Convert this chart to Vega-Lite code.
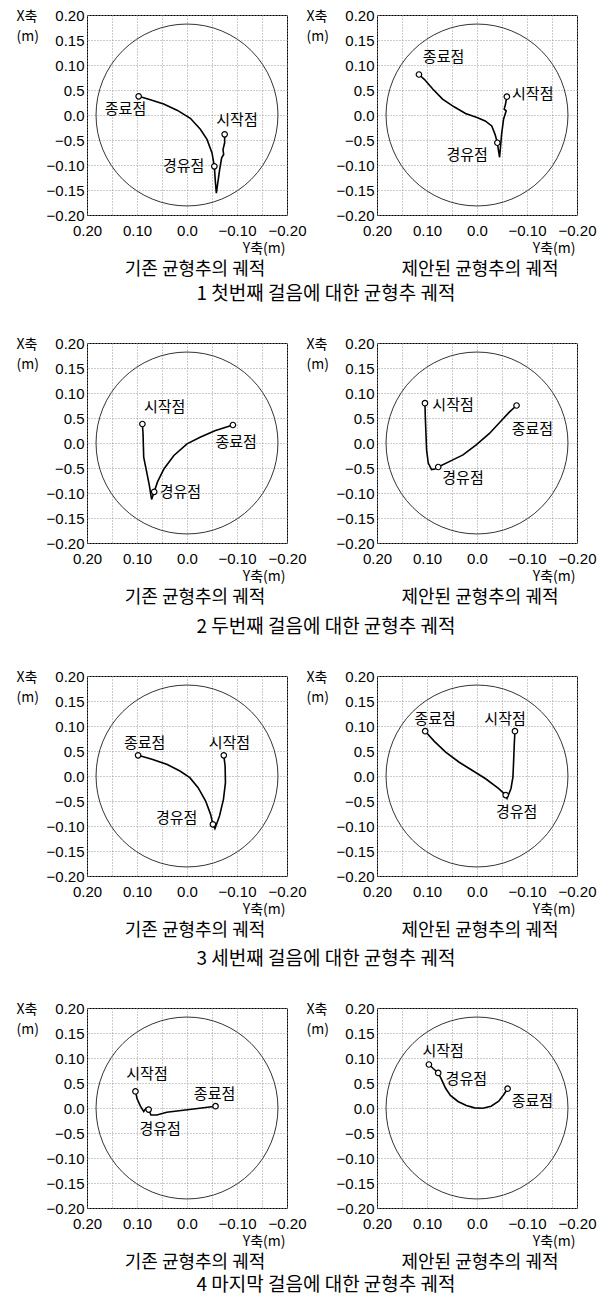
{
"$schema": "https://vega.github.io/schema/vega-lite/v6.json",
"padding": {"left": 15, "top": 7, "right": 5, "bottom": 2},
"background": "white",
"spacing": 31,
"config": {
 "view": {"stroke": "#000", "strokeWidth": 1},
 "font": "Noto Sans CJK KR",
 "axis": {"labelFont": "Liberation Sans", "labelFontSize": 15, "labelColor": "#000", "titleFont": "Noto Sans CJK KR", "titleFontSize": 14, "titleFontWeight": "normal", "titleColor": "#000", "domain": false, "ticks": false, "grid": true, "gridColor": "#999", "gridDash": [1, 2], "gridWidth": 1, "labelOverlap": false, "labelFlush": false},
 "title": {"font": "Noto Sans CJK KR", "fontSize": 18, "fontWeight": "normal", "color": "#000"}
},
"datasets": {
 "ring": [{"Y": 0, "X": 0}],
 "traj": [
  {"panel":1,"i":0,"Y":-0.0753,"X":-0.0387},{"panel":1,"i":1,"Y":-0.0753,"X":-0.0556},{"panel":1,"i":2,"Y":-0.072,"X":-0.069},{"panel":1,"i":3,"Y":-0.0733,"X":-0.079},{"panel":1,"i":4,"Y":-0.0693,"X":-0.0858},{"panel":1,"i":5,"Y":-0.0653,"X":-0.1093},{"panel":1,"i":6,"Y":-0.062,"X":-0.1329},{"panel":1,"i":7,"Y":-0.0587,"X":-0.1564},{"panel":1,"i":8,"Y":-0.0567,"X":-0.1329},{"panel":1,"i":9,"Y":-0.0547,"X":-0.1026},{"panel":1,"i":10,"Y":-0.05,"X":-0.0757},{"panel":1,"i":11,"Y":-0.04,"X":-0.0488},{"panel":1,"i":12,"Y":-0.0267,"X":-0.0286},{"panel":1,"i":13,"Y":-0.0067,"X":-0.0065},{"panel":1,"i":14,"Y":0.02,"X":0.0097},{"panel":1,"i":15,"Y":0.0467,"X":0.0218},{"panel":1,"i":16,"Y":0.0733,"X":0.0305},{"panel":1,"i":17,"Y":0.0967,"X":0.0373},
  {"panel":2,"i":0,"Y":-0.0597,"X":0.0366},{"panel":2,"i":1,"Y":-0.057,"X":0.0218},{"panel":2,"i":2,"Y":-0.0544,"X":0.0117},{"panel":2,"i":3,"Y":-0.0584,"X":0.0083},{"panel":2,"i":4,"Y":-0.0531,"X":-0.0085},{"panel":2,"i":5,"Y":-0.0492,"X":-0.0387},{"panel":2,"i":6,"Y":-0.0452,"X":-0.0845},{"panel":2,"i":7,"Y":-0.0426,"X":-0.069},{"panel":2,"i":8,"Y":-0.0407,"X":-0.0555},{"panel":2,"i":9,"Y":-0.0361,"X":-0.0387},{"panel":2,"i":10,"Y":-0.0295,"X":-0.0219},{"panel":2,"i":11,"Y":-0.0164,"X":-0.0118},{"panel":2,"i":12,"Y":0,"X":-0.0051},{"panel":2,"i":13,"Y":0.0229,"X":0.003},{"panel":2,"i":14,"Y":0.0459,"X":0.0164},{"panel":2,"i":15,"Y":0.0689,"X":0.0319},{"panel":2,"i":16,"Y":0.0885,"X":0.052},{"panel":2,"i":17,"Y":0.1049,"X":0.0709},{"panel":2,"i":18,"Y":0.1161,"X":0.081},
  {"panel":3,"i":0,"Y":0.0892,"X":0.038},{"panel":3,"i":1,"Y":0.0879,"X":0.0181},{"panel":3,"i":2,"Y":0.0866,"X":-0.0282},{"panel":3,"i":3,"Y":0.0813,"X":-0.0546},{"panel":3,"i":4,"Y":0.0754,"X":-0.0844},{"panel":3,"i":5,"Y":0.0708,"X":-0.1128},{"panel":3,"i":6,"Y":0.0656,"X":-0.0976},{"panel":3,"i":7,"Y":0.059,"X":-0.0778},{"panel":3,"i":8,"Y":0.0459,"X":-0.0513},{"panel":3,"i":9,"Y":0.0262,"X":-0.0249},{"panel":3,"i":10,"Y":0,"X":-0.0017},{"panel":3,"i":11,"Y":-0.0262,"X":0.0115},{"panel":3,"i":12,"Y":-0.0557,"X":0.0247},{"panel":3,"i":13,"Y":-0.0918,"X":0.036},
  {"panel":4,"i":0,"Y":0.1041,"X":0.0796},{"panel":4,"i":1,"Y":0.1034,"X":0.052},{"panel":4,"i":2,"Y":0.1021,"X":0.0191},{"panel":4,"i":3,"Y":0.1008,"X":-0.0138},{"panel":4,"i":4,"Y":0.0975,"X":-0.0401},{"panel":4,"i":5,"Y":0.0909,"X":-0.0533},{"panel":4,"i":6,"Y":0.0843,"X":-0.052},{"panel":4,"i":7,"Y":0.0776,"X":-0.048},{"panel":4,"i":8,"Y":0.0545,"X":-0.0368},{"panel":4,"i":9,"Y":0.028,"X":-0.0237},{"panel":4,"i":10,"Y":0.0016,"X":-0.0039},{"panel":4,"i":11,"Y":-0.0249,"X":0.0191},{"panel":4,"i":12,"Y":-0.048,"X":0.0441},{"panel":4,"i":13,"Y":-0.0646,"X":0.0618},{"panel":4,"i":14,"Y":-0.0791,"X":0.075},
  {"panel":5,"i":0,"Y":-0.0736,"X":0.0413},{"panel":5,"i":1,"Y":-0.0762,"X":0.02},{"panel":5,"i":2,"Y":-0.0769,"X":-0.0133},{"panel":5,"i":3,"Y":-0.0729,"X":-0.0467},{"panel":5,"i":4,"Y":-0.065,"X":-0.08},{"panel":5,"i":5,"Y":-0.0558,"X":-0.1053},{"panel":5,"i":6,"Y":-0.0518,"X":-0.0967},{"panel":5,"i":7,"Y":-0.0472,"X":-0.0767},{"panel":5,"i":8,"Y":-0.0373,"X":-0.05},{"panel":5,"i":9,"Y":-0.0222,"X":-0.0233},{"panel":5,"i":10,"Y":-0.0057,"X":-0.0033},{"panel":5,"i":11,"Y":0.0141,"X":0.01},{"panel":5,"i":12,"Y":0.0405,"X":0.0233},{"panel":5,"i":13,"Y":0.0701,"X":0.0333},{"panel":5,"i":14,"Y":0.0978,"X":0.0413},
  {"panel":6,"i":0,"Y":-0.0759,"X":0.0896},{"panel":6,"i":1,"Y":-0.0746,"X":0.0644},{"panel":6,"i":2,"Y":-0.0733,"X":0.0313},{"panel":6,"i":3,"Y":-0.0719,"X":-0.0017},{"panel":6,"i":4,"Y":-0.068,"X":-0.0249},{"panel":6,"i":5,"Y":-0.0601,"X":-0.0447},{"panel":6,"i":6,"Y":-0.0574,"X":-0.0381},{"panel":6,"i":7,"Y":-0.0429,"X":-0.0249},{"panel":6,"i":8,"Y":-0.0165,"X":-0.005},{"panel":6,"i":9,"Y":0.0099,"X":0.0115},{"panel":6,"i":10,"Y":0.0363,"X":0.028},{"panel":6,"i":11,"Y":0.0627,"X":0.0479},{"panel":6,"i":12,"Y":0.0858,"X":0.0697},{"panel":6,"i":13,"Y":0.1036,"X":0.0896},
  {"panel":7,"i":0,"Y":0.1031,"X":0.0332},{"panel":7,"i":1,"Y":0.0998,"X":0.0184},{"panel":7,"i":2,"Y":0.0932,"X":0.0036},{"panel":7,"i":3,"Y":0.0866,"X":-0.0071},{"panel":7,"i":4,"Y":0.082,"X":-0.0004},{"panel":7,"i":5,"Y":0.0767,"X":-0.0031},{"panel":7,"i":6,"Y":0.0721,"X":-0.0139},{"panel":7,"i":7,"Y":0.0602,"X":-0.0139},{"panel":7,"i":8,"Y":0.0405,"X":-0.0085},{"panel":7,"i":9,"Y":0.0075,"X":-0.0044},{"panel":7,"i":10,"Y":-0.0254,"X":-0.0004},{"panel":7,"i":11,"Y":-0.0571,"X":0.0036},
  {"panel":8,"i":0,"Y":0.0962,"X":0.087},{"panel":8,"i":1,"Y":0.0876,"X":0.079},{"panel":8,"i":2,"Y":0.0776,"X":0.0702},{"panel":8,"i":3,"Y":0.071,"X":0.0574},{"panel":8,"i":4,"Y":0.0631,"X":0.0399},{"panel":8,"i":5,"Y":0.0532,"X":0.0251},{"panel":8,"i":6,"Y":0.038,"X":0.013},{"panel":8,"i":7,"Y":0.0214,"X":0.005},{"panel":8,"i":8,"Y":0.0049,"X":0.0003},{"panel":8,"i":9,"Y":-0.0116,"X":-0.0004},{"panel":8,"i":10,"Y":-0.0282,"X":0.0036},{"panel":8,"i":11,"Y":-0.0434,"X":0.0137},{"panel":8,"i":12,"Y":-0.0533,"X":0.0265},{"panel":8,"i":13,"Y":-0.0612,"X":0.0386}
 ],
 "pts": [
  {"panel":1,"kind":"start","Y":-0.0753,"X":-0.0387},{"panel":1,"kind":"via","Y":-0.0547,"X":-0.1026},{"panel":1,"kind":"end","Y":0.0967,"X":0.0373},
  {"panel":2,"kind":"start","Y":-0.0597,"X":0.0366},{"panel":2,"kind":"via","Y":-0.0407,"X":-0.0555},{"panel":2,"kind":"end","Y":0.1161,"X":0.081},
  {"panel":3,"kind":"start","Y":0.0892,"X":0.038},{"panel":3,"kind":"via","Y":0.0656,"X":-0.0976},{"panel":3,"kind":"end","Y":-0.0918,"X":0.036},
  {"panel":4,"kind":"start","Y":0.1041,"X":0.0796},{"panel":4,"kind":"via","Y":0.0776,"X":-0.048},{"panel":4,"kind":"end","Y":-0.0791,"X":0.075},
  {"panel":5,"kind":"start","Y":-0.0736,"X":0.0413},{"panel":5,"kind":"via","Y":-0.0518,"X":-0.0967},{"panel":5,"kind":"end","Y":0.0978,"X":0.0413},
  {"panel":6,"kind":"start","Y":-0.0759,"X":0.0896},{"panel":6,"kind":"via","Y":-0.0574,"X":-0.0381},{"panel":6,"kind":"end","Y":0.1036,"X":0.0896},
  {"panel":7,"kind":"start","Y":0.1031,"X":0.0332},{"panel":7,"kind":"via","Y":0.0767,"X":-0.0031},{"panel":7,"kind":"end","Y":-0.0571,"X":0.0036},
  {"panel":8,"kind":"start","Y":0.0962,"X":0.087},{"panel":8,"kind":"via","Y":0.0776,"X":0.0702},{"panel":8,"kind":"end","Y":-0.0612,"X":0.0386}
 ],
 "labels": [
  {"panel":1,"label":"시작점","Y":-0.1,"X":-0.0105},{"panel":1,"label":"종료점","Y":0.123,"X":0.0117},{"panel":1,"label":"경유점","Y":0.0067,"X":-0.1026},
  {"panel":2,"label":"종료점","Y":0.0669,"X":0.116},{"panel":2,"label":"시작점","Y":-0.1115,"X":0.042},{"panel":2,"label":"경유점","Y":0.0197,"X":-0.0804},
  {"panel":3,"label":"시작점","Y":0.0446,"X":0.0724},{"panel":3,"label":"종료점","Y":-0.0984,"X":0.0016},{"panel":3,"label":"경유점","Y":0.0131,"X":-0.0976},
  {"panel":4,"label":"시작점","Y":0.0479,"X":0.077},{"panel":4,"label":"종료점","Y":-0.1108,"X":0.029},{"panel":4,"label":"경유점","Y":0.028,"X":-0.0697},
  {"panel":5,"label":"종료점","Y":0.0846,"X":0.0667},{"panel":5,"label":"시작점","Y":-0.0848,"X":0.0667},{"panel":5,"label":"경유점","Y":0.0207,"X":-0.0833},
  {"panel":6,"label":"종료점","Y":0.0838,"X":0.114},{"panel":6,"label":"시작점","Y":-0.0561,"X":0.114},{"panel":6,"label":"경유점","Y":-0.0792,"X":-0.0712},
  {"panel":7,"label":"시작점","Y":0.08,"X":0.0689},{"panel":7,"label":"종료점","Y":-0.0551,"X":0.0285},{"panel":7,"label":"경유점","Y":0.0537,"X":-0.0421},
  {"panel":8,"label":"시작점","Y":0.0677,"X":0.1139},{"panel":8,"label":"경유점","Y":0.0214,"X":0.0588},{"panel":8,"label":"종료점","Y":-0.1108,"X":0.015}
 ]
},
"vconcat": [
 {"hconcat": [
  {"width": 200, "height": 200,
   "title": {"text": "기존 균형추의 궤적", "orient": "bottom", "frame": "group", "anchor": "middle", "offset": 6, "dx": 8},
   "encoding": {
    "x": {"field": "Y", "type": "quantitative", "scale": {"domain": [-0.2, 0.2], "reverse": true, "nice": false, "zero": false}, "axis": {"title": "Y축(m)", "values": [0.2,0.15,0.1,0.05,0,-0.05,-0.1,-0.15,-0.2], "labelExpr": "datum.value == 0 ? '0.0' : (abs(round(datum.value * 100)) % 10 != 0 ? '' : format(datum.value, '.2f'))", "titleX": 198, "titleY": 33, "titleAlign": "right", "titleBaseline": "middle", "labelPadding": 8}},
    "y": {"field": "X", "type": "quantitative", "scale": {"domain": [-0.2, 0.2], "nice": false, "zero": false}, "axis": {"title": ["X축", "(m)"], "values": [0.2,0.15,0.1,0.05,0,-0.05,-0.1,-0.15,-0.2], "labelExpr": "datum.value == 0 ? '0.0' : (abs(round(datum.value * 100)) == 5 ? (datum.value < 0 ? '−0.5' : '0.5') : format(datum.value, '.2f'))", "titleAngle": 0, "titleX": -71, "titleY": 5, "titleAlign": "left", "titleBaseline": "alphabetic", "titleLineHeight": 20, "labelPadding": 3}}
   },
   "layer": [
    {"data": {"name": "ring"}, "mark": {"type": "point", "shape": "circle", "size": 33100, "filled": false, "stroke": "#333", "strokeWidth": 1, "opacity": 1}},
    {"data": {"name": "traj"}, "transform": [{"filter": "datum.panel == 1"}], "mark": {"type": "line", "color": "#000", "strokeWidth": 1.6}, "encoding": {"order": {"field": "i", "type": "quantitative"}}},
    {"data": {"name": "pts"}, "transform": [{"filter": "datum.panel == 1"}], "mark": {"type": "point", "shape": "circle", "size": 30, "filled": true, "fill": "#fff", "stroke": "#000", "strokeWidth": 1.2, "opacity": 1}},
    {"data": {"name": "labels"}, "transform": [{"filter": "datum.panel == 1"}], "mark": {"type": "text", "font": "Noto Sans CJK KR", "fontSize": 15, "color": "#000"}, "encoding": {"text": {"field": "label", "type": "nominal"}}}
   ]},
  {"width": 200, "height": 200,
   "title": {"text": "제안된 균형추의 궤적", "orient": "bottom", "frame": "group", "anchor": "middle", "offset": 6, "dx": 3},
   "encoding": {
    "x": {"field": "Y", "type": "quantitative", "scale": {"domain": [-0.2, 0.2], "reverse": true, "nice": false, "zero": false}, "axis": {"title": "Y축(m)", "values": [0.2,0.15,0.1,0.05,0,-0.05,-0.1,-0.15,-0.2], "labelExpr": "datum.value == 0 ? '0.0' : (abs(round(datum.value * 100)) % 10 != 0 ? '' : format(datum.value, '.2f'))", "titleX": 198, "titleY": 33, "titleAlign": "right", "titleBaseline": "middle", "labelPadding": 8}},
    "y": {"field": "X", "type": "quantitative", "scale": {"domain": [-0.2, 0.2], "nice": false, "zero": false}, "axis": {"title": ["X축", "(m)"], "values": [0.2,0.15,0.1,0.05,0,-0.05,-0.1,-0.15,-0.2], "labelExpr": "datum.value == 0 ? '0.0' : (abs(round(datum.value * 100)) == 5 ? (datum.value < 0 ? '−0.5' : '0.5') : format(datum.value, '.2f'))", "titleAngle": 0, "titleX": -71, "titleY": 5, "titleAlign": "left", "titleBaseline": "alphabetic", "titleLineHeight": 20, "labelPadding": 3}}
   },
   "layer": [
    {"data": {"name": "ring"}, "mark": {"type": "point", "shape": "circle", "size": 33100, "filled": false, "stroke": "#333", "strokeWidth": 1, "opacity": 1}},
    {"data": {"name": "traj"}, "transform": [{"filter": "datum.panel == 2"}], "mark": {"type": "line", "color": "#000", "strokeWidth": 1.6}, "encoding": {"order": {"field": "i", "type": "quantitative"}}},
    {"data": {"name": "pts"}, "transform": [{"filter": "datum.panel == 2"}], "mark": {"type": "point", "shape": "circle", "size": 30, "filled": true, "fill": "#fff", "stroke": "#000", "strokeWidth": 1.2, "opacity": 1}},
    {"data": {"name": "labels"}, "transform": [{"filter": "datum.panel == 2"}], "mark": {"type": "text", "font": "Noto Sans CJK KR", "fontSize": 15, "color": "#000"}, "encoding": {"text": {"field": "label", "type": "nominal"}}}
   ]}
 ], "spacing": 90, "bounds": "flush",
 "title": {"text": "1 첫번째 걸음에 대한 균형추 궤적", "orient": "bottom", "anchor": "middle", "offset": 5, "fontSize": 19, "dx": 20}},
 {"hconcat": [
  {"width": 200, "height": 200,
   "title": {"text": "기존 균형추의 궤적", "orient": "bottom", "frame": "group", "anchor": "middle", "offset": 6, "dx": 8},
   "encoding": {
    "x": {"field": "Y", "type": "quantitative", "scale": {"domain": [-0.2, 0.2], "reverse": true, "nice": false, "zero": false}, "axis": {"title": "Y축(m)", "values": [0.2,0.15,0.1,0.05,0,-0.05,-0.1,-0.15,-0.2], "labelExpr": "datum.value == 0 ? '0.0' : (abs(round(datum.value * 100)) % 10 != 0 ? '' : format(datum.value, '.2f'))", "titleX": 198, "titleY": 33, "titleAlign": "right", "titleBaseline": "middle", "labelPadding": 8}},
    "y": {"field": "X", "type": "quantitative", "scale": {"domain": [-0.2, 0.2], "nice": false, "zero": false}, "axis": {"title": ["X축", "(m)"], "values": [0.2,0.15,0.1,0.05,0,-0.05,-0.1,-0.15,-0.2], "labelExpr": "datum.value == 0 ? '0.0' : (abs(round(datum.value * 100)) == 5 ? (datum.value < 0 ? '−0.5' : '0.5') : format(datum.value, '.2f'))", "titleAngle": 0, "titleX": -71, "titleY": 5, "titleAlign": "left", "titleBaseline": "alphabetic", "titleLineHeight": 20, "labelPadding": 3}}
   },
   "layer": [
    {"data": {"name": "ring"}, "mark": {"type": "point", "shape": "circle", "size": 33100, "filled": false, "stroke": "#333", "strokeWidth": 1, "opacity": 1}},
    {"data": {"name": "traj"}, "transform": [{"filter": "datum.panel == 3"}], "mark": {"type": "line", "color": "#000", "strokeWidth": 1.6}, "encoding": {"order": {"field": "i", "type": "quantitative"}}},
    {"data": {"name": "pts"}, "transform": [{"filter": "datum.panel == 3"}], "mark": {"type": "point", "shape": "circle", "size": 30, "filled": true, "fill": "#fff", "stroke": "#000", "strokeWidth": 1.2, "opacity": 1}},
    {"data": {"name": "labels"}, "transform": [{"filter": "datum.panel == 3"}], "mark": {"type": "text", "font": "Noto Sans CJK KR", "fontSize": 15, "color": "#000"}, "encoding": {"text": {"field": "label", "type": "nominal"}}}
   ]},
  {"width": 200, "height": 200,
   "title": {"text": "제안된 균형추의 궤적", "orient": "bottom", "frame": "group", "anchor": "middle", "offset": 6, "dx": 3},
   "encoding": {
    "x": {"field": "Y", "type": "quantitative", "scale": {"domain": [-0.2, 0.2], "reverse": true, "nice": false, "zero": false}, "axis": {"title": "Y축(m)", "values": [0.2,0.15,0.1,0.05,0,-0.05,-0.1,-0.15,-0.2], "labelExpr": "datum.value == 0 ? '0.0' : (abs(round(datum.value * 100)) % 10 != 0 ? '' : format(datum.value, '.2f'))", "titleX": 198, "titleY": 33, "titleAlign": "right", "titleBaseline": "middle", "labelPadding": 8}},
    "y": {"field": "X", "type": "quantitative", "scale": {"domain": [-0.2, 0.2], "nice": false, "zero": false}, "axis": {"title": ["X축", "(m)"], "values": [0.2,0.15,0.1,0.05,0,-0.05,-0.1,-0.15,-0.2], "labelExpr": "datum.value == 0 ? '0.0' : (abs(round(datum.value * 100)) == 5 ? (datum.value < 0 ? '−0.5' : '0.5') : format(datum.value, '.2f'))", "titleAngle": 0, "titleX": -71, "titleY": 5, "titleAlign": "left", "titleBaseline": "alphabetic", "titleLineHeight": 20, "labelPadding": 3}}
   },
   "layer": [
    {"data": {"name": "ring"}, "mark": {"type": "point", "shape": "circle", "size": 33100, "filled": false, "stroke": "#333", "strokeWidth": 1, "opacity": 1}},
    {"data": {"name": "traj"}, "transform": [{"filter": "datum.panel == 4"}], "mark": {"type": "line", "color": "#000", "strokeWidth": 1.6}, "encoding": {"order": {"field": "i", "type": "quantitative"}}},
    {"data": {"name": "pts"}, "transform": [{"filter": "datum.panel == 4"}], "mark": {"type": "point", "shape": "circle", "size": 30, "filled": true, "fill": "#fff", "stroke": "#000", "strokeWidth": 1.2, "opacity": 1}},
    {"data": {"name": "labels"}, "transform": [{"filter": "datum.panel == 4"}], "mark": {"type": "text", "font": "Noto Sans CJK KR", "fontSize": 15, "color": "#000"}, "encoding": {"text": {"field": "label", "type": "nominal"}}}
   ]}
 ], "spacing": 90, "bounds": "flush",
 "title": {"text": "2 두번째 걸음에 대한 균형추 궤적", "orient": "bottom", "anchor": "middle", "offset": 10, "fontSize": 19, "dx": 20}},
 {"hconcat": [
  {"width": 200, "height": 200,
   "title": {"text": "기존 균형추의 궤적", "orient": "bottom", "frame": "group", "anchor": "middle", "offset": 6, "dx": 8},
   "encoding": {
    "x": {"field": "Y", "type": "quantitative", "scale": {"domain": [-0.2, 0.2], "reverse": true, "nice": false, "zero": false}, "axis": {"title": "Y축(m)", "values": [0.2,0.15,0.1,0.05,0,-0.05,-0.1,-0.15,-0.2], "labelExpr": "datum.value == 0 ? '0.0' : (abs(round(datum.value * 100)) % 10 != 0 ? '' : format(datum.value, '.2f'))", "titleX": 198, "titleY": 33, "titleAlign": "right", "titleBaseline": "middle", "labelPadding": 8}},
    "y": {"field": "X", "type": "quantitative", "scale": {"domain": [-0.2, 0.2], "nice": false, "zero": false}, "axis": {"title": ["X축", "(m)"], "values": [0.2,0.15,0.1,0.05,0,-0.05,-0.1,-0.15,-0.2], "labelExpr": "datum.value == 0 ? '0.0' : (abs(round(datum.value * 100)) == 5 ? (datum.value < 0 ? '−0.5' : '0.5') : format(datum.value, '.2f'))", "titleAngle": 0, "titleX": -71, "titleY": 5, "titleAlign": "left", "titleBaseline": "alphabetic", "titleLineHeight": 20, "labelPadding": 3}}
   },
   "layer": [
    {"data": {"name": "ring"}, "mark": {"type": "point", "shape": "circle", "size": 33100, "filled": false, "stroke": "#333", "strokeWidth": 1, "opacity": 1}},
    {"data": {"name": "traj"}, "transform": [{"filter": "datum.panel == 5"}], "mark": {"type": "line", "color": "#000", "strokeWidth": 1.6}, "encoding": {"order": {"field": "i", "type": "quantitative"}}},
    {"data": {"name": "pts"}, "transform": [{"filter": "datum.panel == 5"}], "mark": {"type": "point", "shape": "circle", "size": 30, "filled": true, "fill": "#fff", "stroke": "#000", "strokeWidth": 1.2, "opacity": 1}},
    {"data": {"name": "labels"}, "transform": [{"filter": "datum.panel == 5"}], "mark": {"type": "text", "font": "Noto Sans CJK KR", "fontSize": 15, "color": "#000"}, "encoding": {"text": {"field": "label", "type": "nominal"}}}
   ]},
  {"width": 200, "height": 200,
   "title": {"text": "제안된 균형추의 궤적", "orient": "bottom", "frame": "group", "anchor": "middle", "offset": 6, "dx": 3},
   "encoding": {
    "x": {"field": "Y", "type": "quantitative", "scale": {"domain": [-0.2, 0.2], "reverse": true, "nice": false, "zero": false}, "axis": {"title": "Y축(m)", "values": [0.2,0.15,0.1,0.05,0,-0.05,-0.1,-0.15,-0.2], "labelExpr": "datum.value == 0 ? '0.0' : (abs(round(datum.value * 100)) % 10 != 0 ? '' : format(datum.value, '.2f'))", "titleX": 198, "titleY": 33, "titleAlign": "right", "titleBaseline": "middle", "labelPadding": 8}},
    "y": {"field": "X", "type": "quantitative", "scale": {"domain": [-0.2, 0.2], "nice": false, "zero": false}, "axis": {"title": ["X축", "(m)"], "values": [0.2,0.15,0.1,0.05,0,-0.05,-0.1,-0.15,-0.2], "labelExpr": "datum.value == 0 ? '0.0' : (abs(round(datum.value * 100)) == 5 ? (datum.value < 0 ? '−0.5' : '0.5') : format(datum.value, '.2f'))", "titleAngle": 0, "titleX": -71, "titleY": 5, "titleAlign": "left", "titleBaseline": "alphabetic", "titleLineHeight": 20, "labelPadding": 3}}
   },
   "layer": [
    {"data": {"name": "ring"}, "mark": {"type": "point", "shape": "circle", "size": 33100, "filled": false, "stroke": "#333", "strokeWidth": 1, "opacity": 1}},
    {"data": {"name": "traj"}, "transform": [{"filter": "datum.panel == 6"}], "mark": {"type": "line", "color": "#000", "strokeWidth": 1.6}, "encoding": {"order": {"field": "i", "type": "quantitative"}}},
    {"data": {"name": "pts"}, "transform": [{"filter": "datum.panel == 6"}], "mark": {"type": "point", "shape": "circle", "size": 30, "filled": true, "fill": "#fff", "stroke": "#000", "strokeWidth": 1.2, "opacity": 1}},
    {"data": {"name": "labels"}, "transform": [{"filter": "datum.panel == 6"}], "mark": {"type": "text", "font": "Noto Sans CJK KR", "fontSize": 15, "color": "#000"}, "encoding": {"text": {"field": "label", "type": "nominal"}}}
   ]}
 ], "spacing": 90, "bounds": "flush",
 "title": {"text": "3 세번째 걸음에 대한 균형추 궤적", "orient": "bottom", "anchor": "middle", "offset": 9, "fontSize": 19, "dx": 20}},
 {"hconcat": [
  {"width": 200, "height": 200,
   "title": {"text": "기존 균형추의 궤적", "orient": "bottom", "frame": "group", "anchor": "middle", "offset": 6, "dx": 8},
   "encoding": {
    "x": {"field": "Y", "type": "quantitative", "scale": {"domain": [-0.2, 0.2], "reverse": true, "nice": false, "zero": false}, "axis": {"title": "Y축(m)", "values": [0.2,0.15,0.1,0.05,0,-0.05,-0.1,-0.15,-0.2], "labelExpr": "datum.value == 0 ? '0.0' : (abs(round(datum.value * 100)) % 10 != 0 ? '' : format(datum.value, '.2f'))", "titleX": 198, "titleY": 33, "titleAlign": "right", "titleBaseline": "middle", "labelPadding": 8}},
    "y": {"field": "X", "type": "quantitative", "scale": {"domain": [-0.2, 0.2], "nice": false, "zero": false}, "axis": {"title": ["X축", "(m)"], "values": [0.2,0.15,0.1,0.05,0,-0.05,-0.1,-0.15,-0.2], "labelExpr": "datum.value == 0 ? '0.0' : (abs(round(datum.value * 100)) == 5 ? (datum.value < 0 ? '−0.5' : '0.5') : format(datum.value, '.2f'))", "titleAngle": 0, "titleX": -71, "titleY": 5, "titleAlign": "left", "titleBaseline": "alphabetic", "titleLineHeight": 20, "labelPadding": 3}}
   },
   "layer": [
    {"data": {"name": "ring"}, "mark": {"type": "point", "shape": "circle", "size": 33100, "filled": false, "stroke": "#333", "strokeWidth": 1, "opacity": 1}},
    {"data": {"name": "traj"}, "transform": [{"filter": "datum.panel == 7"}], "mark": {"type": "line", "color": "#000", "strokeWidth": 1.6}, "encoding": {"order": {"field": "i", "type": "quantitative"}}},
    {"data": {"name": "pts"}, "transform": [{"filter": "datum.panel == 7"}], "mark": {"type": "point", "shape": "circle", "size": 30, "filled": true, "fill": "#fff", "stroke": "#000", "strokeWidth": 1.2, "opacity": 1}},
    {"data": {"name": "labels"}, "transform": [{"filter": "datum.panel == 7"}], "mark": {"type": "text", "font": "Noto Sans CJK KR", "fontSize": 15, "color": "#000"}, "encoding": {"text": {"field": "label", "type": "nominal"}}}
   ]},
  {"width": 200, "height": 200,
   "title": {"text": "제안된 균형추의 궤적", "orient": "bottom", "frame": "group", "anchor": "middle", "offset": 6, "dx": 3},
   "encoding": {
    "x": {"field": "Y", "type": "quantitative", "scale": {"domain": [-0.2, 0.2], "reverse": true, "nice": false, "zero": false}, "axis": {"title": "Y축(m)", "values": [0.2,0.15,0.1,0.05,0,-0.05,-0.1,-0.15,-0.2], "labelExpr": "datum.value == 0 ? '0.0' : (abs(round(datum.value * 100)) % 10 != 0 ? '' : format(datum.value, '.2f'))", "titleX": 198, "titleY": 33, "titleAlign": "right", "titleBaseline": "middle", "labelPadding": 8}},
    "y": {"field": "X", "type": "quantitative", "scale": {"domain": [-0.2, 0.2], "nice": false, "zero": false}, "axis": {"title": ["X축", "(m)"], "values": [0.2,0.15,0.1,0.05,0,-0.05,-0.1,-0.15,-0.2], "labelExpr": "datum.value == 0 ? '0.0' : (abs(round(datum.value * 100)) == 5 ? (datum.value < 0 ? '−0.5' : '0.5') : format(datum.value, '.2f'))", "titleAngle": 0, "titleX": -71, "titleY": 5, "titleAlign": "left", "titleBaseline": "alphabetic", "titleLineHeight": 20, "labelPadding": 3}}
   },
   "layer": [
    {"data": {"name": "ring"}, "mark": {"type": "point", "shape": "circle", "size": 33100, "filled": false, "stroke": "#333", "strokeWidth": 1, "opacity": 1}},
    {"data": {"name": "traj"}, "transform": [{"filter": "datum.panel == 8"}], "mark": {"type": "line", "color": "#000", "strokeWidth": 1.6}, "encoding": {"order": {"field": "i", "type": "quantitative"}}},
    {"data": {"name": "pts"}, "transform": [{"filter": "datum.panel == 8"}], "mark": {"type": "point", "shape": "circle", "size": 30, "filled": true, "fill": "#fff", "stroke": "#000", "strokeWidth": 1.2, "opacity": 1}},
    {"data": {"name": "labels"}, "transform": [{"filter": "datum.panel == 8"}], "mark": {"type": "text", "font": "Noto Sans CJK KR", "fontSize": 15, "color": "#000"}, "encoding": {"text": {"field": "label", "type": "nominal"}}}
   ]}
 ], "spacing": 90, "bounds": "flush",
 "title": {"text": "4 마지막 걸음에 대한 균형추 궤적", "orient": "bottom", "anchor": "middle", "offset": 3, "fontSize": 19, "dx": 20}}
]
}
